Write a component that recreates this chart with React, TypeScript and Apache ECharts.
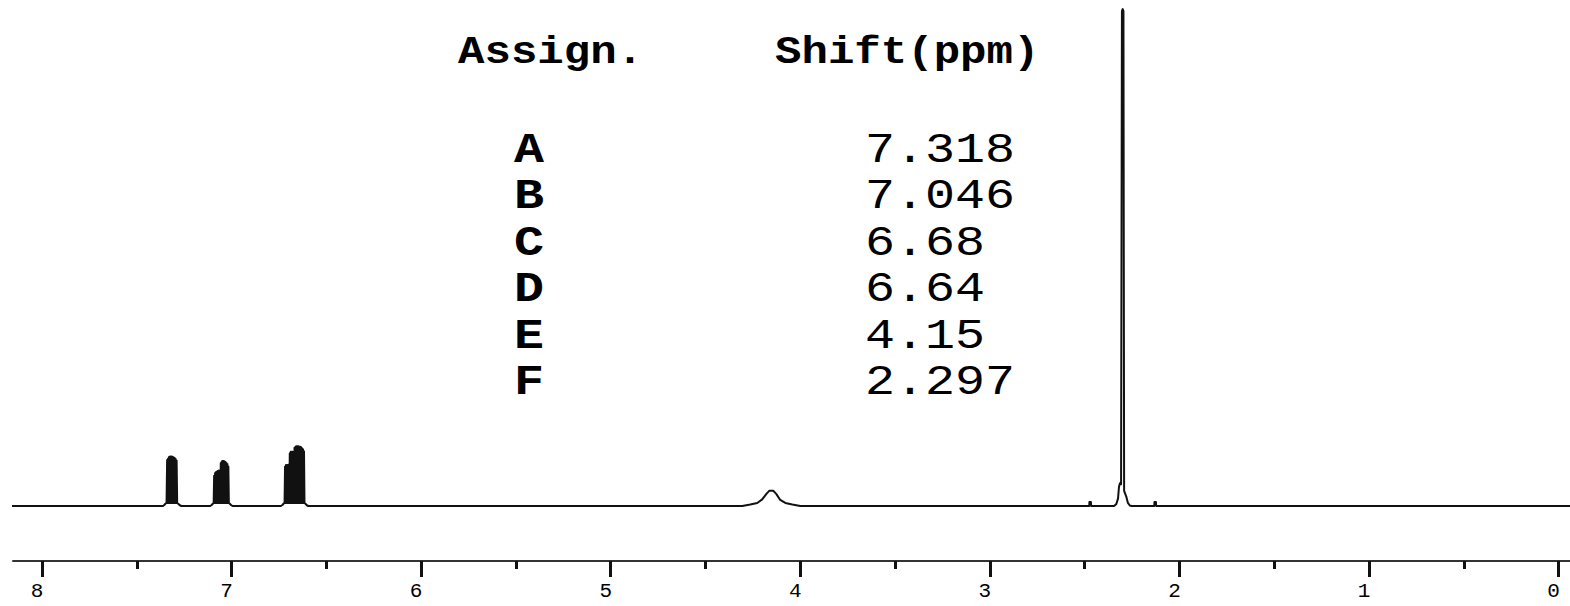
import React, { useEffect, useRef } from 'react';
import * as echarts from 'echarts';

// ---- data ----
const majorTicks = [0, 1, 2, 3, 4, 5, 6, 7, 8];
const minorTicks = [0.5, 1.5, 2.5, 3.5, 4.5, 5.5, 6.5, 7.5];
const headerAssign = 'Assign.';
const headerShift = 'Shift(ppm)';
const assignLabels = ['A', 'B', 'C', 'D', 'E', 'F'];
const shiftValues = ['7.318', '7.046', '6.68', '6.64', '4.15', '2.297'];

// [ppm, intensity]
const spectrum: [number, number][] = [
  [8.16, 0],
  // A multiplet
  [7.362, 0], [7.355, 0.2], [7.348, 0.5], [7.343, 0.6],
  [7.340, 9.1], [7.3375, 0.6], [7.335, 9.4], [7.3325, 0.6], [7.330, 9.7], [7.3275, 0.6],
  [7.325, 9.8], [7.3225, 0.6], [7.320, 9.8], [7.3175, 0.6], [7.315, 9.8], [7.3125, 0.6],
  [7.310, 9.7], [7.3075, 0.6], [7.305, 9.6], [7.3025, 0.6], [7.300, 9.5], [7.2975, 0.6],
  [7.295, 9.3], [7.2925, 0.6], [7.290, 9.0], [7.287, 0.6], [7.280, 0.4], [7.273, 0.15], [7.265, 0],
  // B multiplet
  [7.113, 0], [7.105, 0.2], [7.098, 0.5], [7.0945, 0.6],
  [7.092, 6.0], [7.0895, 0.6], [7.087, 6.5], [7.0845, 0.6], [7.082, 6.7], [7.0795, 0.6],
  [7.077, 6.8], [7.0745, 0.6], [7.072, 6.9], [7.0695, 0.6], [7.067, 7.0], [7.0645, 0.6],
  [7.062, 7.0], [7.0595, 0.6], [7.057, 8.5], [7.0545, 0.6], [7.052, 8.8], [7.0495, 0.6],
  [7.047, 8.9], [7.0445, 0.6], [7.042, 8.9], [7.0395, 0.6], [7.037, 8.8], [7.0345, 0.6],
  [7.032, 8.7], [7.0295, 0.6], [7.027, 8.5], [7.0245, 0.6], [7.022, 8.3], [7.0195, 0.6],
  [7.017, 7.8], [7.0145, 0.6], [7.008, 0.4], [7.002, 0.15], [6.995, 0],
  // C / D multiplets
  [6.740, 0], [6.732, 0.2], [6.725, 0.5], [6.7205, 0.6],
  [6.718, 7.8], [6.7155, 0.6], [6.713, 8.1], [6.7105, 0.6], [6.708, 8.1], [6.7055, 0.6],
  [6.703, 8.1], [6.7005, 0.6], [6.698, 8.2], [6.6955, 0.6], [6.693, 10.4], [6.6905, 0.6],
  [6.688, 10.7], [6.6855, 0.6], [6.683, 10.7], [6.6805, 0.6], [6.678, 10.7], [6.6755, 0.6],
  [6.673, 10.7], [6.6705, 0.6], [6.668, 11.5], [6.6655, 0.6], [6.663, 11.7], [6.6605, 0.6],
  [6.658, 11.8], [6.6555, 0.6], [6.653, 11.8], [6.6505, 0.6], [6.648, 11.8], [6.6455, 0.6],
  [6.643, 11.7], [6.6405, 0.6], [6.638, 11.7], [6.6355, 0.6], [6.633, 11.6], [6.6305, 0.6],
  [6.628, 11.4], [6.6255, 0.6], [6.623, 11.2], [6.6205, 0.6], [6.618, 10.8], [6.6155, 0.6],
  [6.609, 0.4], [6.603, 0.15], [6.595, 0],
  // E broad peak
  [4.306, 0], [4.264, 0.3], [4.227, 0.6], [4.201, 1.3], [4.179, 2.4], [4.164, 3.0],
  [4.143, 3.0], [4.127, 2.4], [4.106, 1.2], [4.079, 0.6], [4.042, 0.3], [4.0, 0],
  // satellite
  [2.482, 0], [2.476, 0], [2.475, 0.8], [2.467, 0.8], [2.466, 0],
  // F singlet
  [2.345, 0], [2.333, 0.4], [2.324, 1.5], [2.319, 3.8], [2.314, 4.5], [2.308, 4.3],
  [2.3035, 97.8], [2.2995, 98.2], [2.2955, 97.8], [2.292, 3.0], [2.286, 2.4], [2.280, 1.8],
  [2.272, 0.6], [2.262, 0.1], [2.252, 0],
  // satellite
  [2.140, 0], [2.133, 0], [2.132, 0.8], [2.124, 0.8], [2.123, 0],
  [-0.07, 0],
];

export default function App() {
  const ref = useRef<HTMLDivElement>(null);

  useEffect(() => {
    document.body.style.margin = '0';
    const chart = echarts.init(ref.current!, null, { renderer: 'svg' });

    const rowY0 = 151;
    const rowStep = 46.5;
    const rowFont = '42px "Liberation Mono", "Courier New", monospace';
    const rowFontBold = 'bold 42px "Liberation Mono", "Courier New", monospace';
    const headFont = 'bold 38px "Liberation Mono", "Courier New", monospace';

    const graphics: any[] = [
      {
        type: 'text', x: 458, y: 53, scaleX: 1.16,
        style: { text: headerAssign, font: headFont, fill: '#000', align: 'left', verticalAlign: 'middle' },
      },
      {
        type: 'text', x: 775, y: 53, scaleX: 1.16,
        style: { text: headerShift, font: headFont, fill: '#000', align: 'left', verticalAlign: 'middle' },
      },
    ];
    assignLabels.forEach((lab, i) => {
      graphics.push({
        type: 'text', x: 514, y: rowY0 + i * rowStep, scaleX: 1.19,
        style: { text: lab, font: rowFontBold, fill: '#000', align: 'left', verticalAlign: 'middle' },
      });
    });
    shiftValues.forEach((v, i) => {
      graphics.push({
        type: 'text', x: 865, y: rowY0 + i * rowStep, scaleX: 1.19,
        style: { text: v, font: rowFont, fill: '#000', align: 'left', verticalAlign: 'middle' },
      });
    });

    const xMin = -0.06;
    const xMax = 8.153;

    const option: any = {
      animation: false,
      backgroundColor: '#fff',
      grid: { left: 13, right: 0, top: 0, bottom: 45, containLabel: false, outerBoundsMode: 'none' },
      xAxis: [
        {
          type: 'value',
          min: xMin,
          max: xMax,
          inverse: true,
          position: 'bottom',
          axisLine: { show: true, onZero: false, lineStyle: { color: '#333', width: 2 } },
          axisTick: { show: true, customValues: majorTicks, length: 16, lineStyle: { color: '#111', width: 3 } },
          axisLabel: {
            show: true,
            customValues: majorTicks,
            margin: 22,
            padding: [0, 10, 0, 0],
            color: '#000',
            fontSize: 21,
            lineHeight: 16,
            fontFamily: '"Liberation Mono", "Courier New", monospace',
          },
          splitLine: { show: false },
        },
        {
          type: 'value',
          min: xMin,
          max: xMax,
          inverse: true,
          position: 'bottom',
          offset: 0,
          axisLine: { show: false, onZero: false },
          axisTick: { show: true, customValues: minorTicks, length: 8, lineStyle: { color: '#111', width: 3 } },
          axisLabel: { show: false },
          splitLine: { show: false },
        },
      ],
      yAxis: {
        type: 'value',
        min: -10.87,
        max: 100,
        show: false,
        splitLine: { show: false },
      },
      series: [
        {
          type: 'line',
          data: spectrum,
          xAxisIndex: 0,
          symbol: 'none',
          showSymbol: false,
          lineStyle: { color: '#111', width: 2, join: 'round' },
          clip: true,
        },
      ],
      graphic: graphics,
    };

    chart.setOption(option);
    return () => chart.dispose();
  }, []);

  return <div ref={ref} style={{ width: 1570, height: 606 }} />;
}
